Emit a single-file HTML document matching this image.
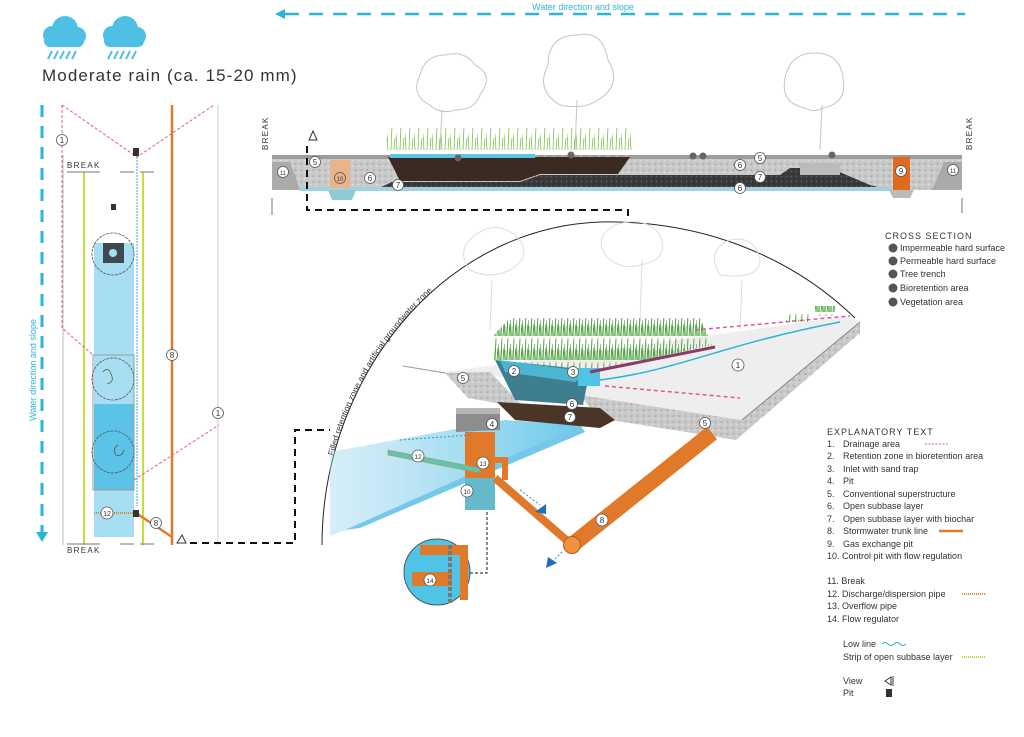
<!DOCTYPE html>
<html><head><meta charset="utf-8"><style>
html,body{margin:0;padding:0;background:#fff}
svg{display:block}
text{font-family:"Liberation Sans",sans-serif}
</style></head><body>
<svg width="1024" height="737" viewBox="0 0 1024 737" xmlns="http://www.w3.org/2000/svg">
<defs>
<pattern id="grav" width="6" height="6" patternUnits="userSpaceOnUse"><rect width="6" height="6" fill="#c9c9c9"/><circle cx="1.5" cy="2" r=".8" fill="#9a9a9a"/><circle cx="4.5" cy="4.5" r=".7" fill="#e8e8e8"/></pattern>
<pattern id="dgrav" width="5" height="5" patternUnits="userSpaceOnUse"><rect width="5" height="5" fill="#3a3a3a"/><circle cx="1.5" cy="1.5" r=".7" fill="#666"/><circle cx="3.5" cy="3.8" r=".6" fill="#222"/></pattern>
<pattern id="grass" width="9" height="30" patternUnits="userSpaceOnUse"><path d="M1 30 L0 14 M4 30 L5 6 M7 30 L8 18" stroke="#7cc04a" stroke-width=".8"/><circle cx="5" cy="6" r="1" fill="#a8cf7a"/></pattern>
<pattern id="grass2" width="6" height="24" patternUnits="userSpaceOnUse"><path d="M1 24 L0 8 M3 24 L4 2 M5 24 L6 12" stroke="#3f9a35" stroke-width=".9"/><circle cx="4" cy="3" r=".9" fill="#cfd08a"/><path d="M2 24 L2 14" stroke="#7fc25a" stroke-width=".8"/></pattern>
<linearGradient id="wat" x1="0" y1="0" x2="1" y2="0"><stop offset="0" stop-color="#9fd8ee" stop-opacity=".5"/><stop offset="1" stop-color="#4fc0e8"/></linearGradient>
</defs>

<line x1="285" y1="14" x2="965" y2="14" stroke="#2bb5d8" stroke-width="2.5" stroke-dasharray="14,10"/>
<path d="M275 14 L285 9 L285 19 Z" fill="#2bb5d8"/>
<text x="583" y="10" font-size="9" fill="#2bb5d8" text-anchor="middle">Water direction and slope</text>

<g fill="#4ec0e6">
 <g transform="translate(42,15)"><circle cx="10" cy="20" r="9"/><circle cx="23" cy="14" r="13"/><circle cx="35" cy="21" r="9"/><rect x="2" y="20" width="40" height="12" rx="6"/>
  <path d="M6 44 L10 36 M12 44 L16 36 M18 44 L22 36 M24 44 L28 36 M30 44 L34 36" stroke="#4ec0e6" stroke-width="2"/></g>
 <g transform="translate(102,15)"><circle cx="10" cy="20" r="9"/><circle cx="23" cy="14" r="13"/><circle cx="35" cy="21" r="9"/><rect x="2" y="20" width="40" height="12" rx="6"/>
  <path d="M6 44 L10 36 M12 44 L16 36 M18 44 L22 36 M24 44 L28 36 M30 44 L34 36" stroke="#4ec0e6" stroke-width="2"/></g>
</g>
<text x="42" y="81" font-size="17" fill="#333" letter-spacing="1.1">Moderate rain (ca. 15-20 mm)</text>

<line x1="42" y1="105" x2="42" y2="532" stroke="#2bb5d8" stroke-width="3" stroke-dasharray="12,9"/>
<path d="M36 532 L48 532 L42 542 Z" fill="#2bb5d8"/>
<text transform="translate(36,370) rotate(-90)" font-size="9" fill="#2bb5d8" text-anchor="middle">Water direction and slope</text>
<rect x="94" y="243" width="40" height="294" fill="#a8def2"/>
<rect x="94" y="404" width="40" height="86" fill="#5cc3e8"/>
<rect x="93" y="355" width="41" height="135" fill="none" stroke="#999" stroke-width="1"/>
<line x1="63" y1="155" x2="63" y2="545" stroke="#bbb"/>
<line x1="218" y1="105" x2="218" y2="545" stroke="#ccc"/>
<line x1="84" y1="172" x2="84" y2="545" stroke="#c8dc3c" stroke-width="2"/>
<line x1="143" y1="172" x2="143" y2="545" stroke="#c8dc3c" stroke-width="2"/>
<line x1="67" y1="172" x2="100" y2="172" stroke="#777"/><line x1="120" y1="172" x2="134" y2="172" stroke="#777"/><line x1="140" y1="172" x2="154" y2="172" stroke="#777"/>
<line x1="67" y1="544" x2="100" y2="544" stroke="#777"/><line x1="120" y1="544" x2="134" y2="544" stroke="#777"/><line x1="140" y1="544" x2="154" y2="544" stroke="#777"/>
<text x="67" y="168" font-size="8" fill="#333" letter-spacing="1.3">BREAK</text>
<text x="67" y="553" font-size="8" fill="#333" letter-spacing="1.3">BREAK</text>
<path d="M62 105 L137 157 L214 105 M62 105 L62 328 L93 355 M134 480 L219 425" fill="none" stroke="#e0589a" stroke-width="1" stroke-dasharray="3,2"/>
<line x1="137" y1="157" x2="137" y2="506" stroke="#2bb5d8" stroke-width="1" stroke-dasharray="2,1"/>
<line x1="172" y1="105" x2="172" y2="545" stroke="#e07a2a" stroke-width="2.5"/>
<line x1="136" y1="513" x2="172" y2="537" stroke="#e07a2a" stroke-width="2.5"/>
<line x1="94" y1="513" x2="133" y2="513" stroke="#c98a3a" stroke-width="2" stroke-dasharray="1,1"/>
<g fill="none" stroke="#555" stroke-width=".8">
 <circle cx="113" cy="254" r="21" stroke-dasharray="3,1"/><circle cx="113" cy="379" r="21" stroke-dasharray="3,1"/><circle cx="113" cy="452" r="21" stroke-dasharray="3,1"/>
 <path d="M103 372 q5 -6 8 2 q4 8 -4 10 M118 445 q-6 4 -2 10 q6 2 8 -5"/>
</g>
<rect x="103" y="243" width="21" height="20" fill="#3c4a4e"/><circle cx="113" cy="253" r="4" fill="#a8def2"/>
<rect x="133" y="148" width="6" height="8" fill="#333"/><rect x="111" y="204" width="5" height="6" fill="#333"/><rect x="133" y="510" width="6" height="7" fill="#333"/>
<g font-size="8" fill="#333" text-anchor="middle">
 <circle cx="62" cy="140" r="5.5" fill="#fff" stroke="#555" stroke-width=".8"/><text x="62" y="143">1</text>
 <circle cx="218" cy="413" r="5.5" fill="#fff" stroke="#555" stroke-width=".8"/><text x="218" y="416">1</text>
 <circle cx="172" cy="355" r="5.5" fill="#fff" stroke="#555" stroke-width=".8"/><text x="172" y="358">8</text>
 <circle cx="156" cy="523" r="5.5" fill="#fff" stroke="#555" stroke-width=".8"/><text x="156" y="526">8</text>
 <circle cx="107" cy="513" r="6" fill="#fff" stroke="#555" stroke-width=".8"/><text x="107" y="516" font-size="7">12</text>
</g>
<path d="M177 543 L182 535 L186 543 Z" fill="none" stroke="#333"/>
<path d="M190 543 L295 543 L295 430 L330 430" fill="none" stroke="#111" stroke-width="2" stroke-dasharray="7,5"/>

<g fill="none" stroke="#c4c4c4" stroke-width="1">
 <path d="M440 150 L442 110 M430 105 q-20 -10 -10 -30 q5 -20 25 -20 q20 -5 30 10 q20 10 5 30 q-5 15 -25 15 q-15 5 -25 -5z"/>
 <path d="M575 150 L577 100 M560 105 q-25 -15 -12 -40 q0 -30 30 -30 q25 -5 30 25 q15 25 -10 40 q-15 10 -38 5z"/>
 <path d="M820 150 L822 105 M805 108 q-25 -5 -20 -30 q5 -25 30 -25 q25 0 28 25 q5 25 -20 30 q-10 5 -18 0z"/>
</g>
<polygon points="272,157 962,157 962,190 272,190" fill="url(#grav)"/>
<rect x="272" y="155" width="690" height="4" fill="#9d9d9d"/>
<polygon points="272,162 290,162 300,190 272,190" fill="#aaa"/>
<polygon points="962,162 944,162 932,190 962,190" fill="#aaa"/>
<polygon points="392,182 520,182 540,175 780,175 790,168 830,168 870,185 890,190 375,190" fill="url(#dgrav)"/>
<rect x="386" y="128" width="246" height="30" fill="url(#grass)"/>
<polygon points="388,157 630,157 618,174 540,174 520,181 400,181" fill="#3a2a22"/>
<rect x="390" y="154" width="145" height="4" fill="#5ec6e6"/>
<rect x="300" y="187" width="590" height="4" fill="#9fd3e0"/>
<rect x="330" y="160" width="20" height="28" fill="#e9b48a"/>
<polygon points="328,190 356,190 352,200 332,200" fill="#8fc9d6"/>
<rect x="893" y="157" width="17" height="36" fill="#e06a1e"/>
<polygon points="889,190 914,190 910,198 893,198" fill="#bbb"/>
<rect x="800" y="163" width="40" height="12" fill="#bbb"/>
<line x1="272" y1="198" x2="272" y2="215" stroke="#777"/><line x1="962" y1="198" x2="962" y2="213" stroke="#777"/>
<text transform="translate(268,150) rotate(-90)" font-size="8" fill="#333" letter-spacing="1.3">BREAK</text>
<text transform="translate(972,150) rotate(-90)" font-size="8" fill="#333" letter-spacing="1.3">BREAK</text>
<path d="M309 140 L313 131 L317 140 Z" fill="none" stroke="#333"/>
<path d="M307 146 L307 210 L628 210 L628 220" fill="none" stroke="#111" stroke-width="2" stroke-dasharray="7,5"/>
<g font-size="8" fill="#333" text-anchor="middle">
 <g fill="#fff" stroke="#555" stroke-width=".8">
  <circle cx="283" cy="172" r="5.5"/><circle cx="315" cy="162" r="5.5"/><circle cx="340" cy="178" r="5.5" fill="#e9b48a"/><circle cx="370" cy="178" r="5.5"/><circle cx="398" cy="185" r="5.5"/>
  <circle cx="760" cy="158" r="5.5"/><circle cx="740" cy="165" r="5.5"/><circle cx="760" cy="177" r="5.5"/><circle cx="740" cy="188" r="5.5"/><circle cx="901" cy="171" r="5.5"/><circle cx="953" cy="170" r="5.5"/>
 </g>
 <text x="283" y="175" font-size="6">11</text><text x="315" y="165">5</text><text x="340" y="181" font-size="6">10</text><text x="370" y="181">6</text><text x="398" y="188">7</text>
 <text x="760" y="161">5</text><text x="740" y="168">6</text><text x="760" y="180">7</text><text x="740" y="191">6</text><text x="901" y="174">9</text><text x="953" y="173" font-size="6">11</text>
 <g fill="#666"><circle cx="458" cy="158" r="3.5"/><circle cx="571" cy="155" r="3.5"/><circle cx="693" cy="156" r="3.5"/><circle cx="703" cy="156" r="3.5"/><circle cx="832" cy="155" r="3.5"/></g>
</g>

<text x="885" y="239" font-size="9" fill="#333" letter-spacing="1">CROSS SECTION</text>
<g font-size="9" fill="#333">
 <g fill="#555"><circle cx="893" cy="248" r="4.5"/><circle cx="893" cy="261" r="4.5"/><circle cx="893" cy="274" r="4.5"/><circle cx="893" cy="288" r="4.5"/><circle cx="893" cy="302" r="4.5"/></g>
 <text x="900" y="251">Impermeable hard surface</text><text x="900" y="264">Permeable hard surface</text><text x="900" y="277">Tree trench</text><text x="900" y="291">Bioretention area</text><text x="900" y="305">Vegetation area</text>
</g>

<path id="arc" d="M322 545 C322 380 440 228 600 222 C700 220 790 255 855 318" fill="none" stroke="#222" stroke-width="1"/>
<text font-size="8.5" fill="#333"><textPath href="#arc" startOffset="12%">Filled retention zone and artificial groundwater zone</textPath></text>
<g fill="none" stroke="#ddd" stroke-width="1">
 <path d="M490 330 L492 280 M470 270 q-15 -20 5 -35 q20 -15 40 0 q20 20 -5 35 q-20 10 -40 0z"/>
 <path d="M640 320 L642 260 M610 260 q-20 -20 5 -35 q30 -10 45 10 q10 25 -20 30 q-15 5 -30 -5z"/>
 <path d="M740 330 L742 280 M720 275 q-15 -25 10 -35 q25 -5 30 20 q0 20 -40 15z"/>
</g>

<polygon points="330,452 505,420 580,425 345,530 330,536" fill="url(#wat)" opacity=".85"/>
<polygon points="345,530 580,425 585,432 360,528" fill="#3ab0e0" opacity=".7"/>
<polygon points="580,395 742,420 860,322 860,333 736,440 598,418" fill="url(#grav)"/>
<polygon points="403,366 445,372 850,316 860,322 742,420 580,395 520,378 445,373" fill="#eeeeee"/>
<line x1="403" y1="366" x2="445" y2="373" stroke="#999"/>
<line x1="742" y1="420" x2="860" y2="322" stroke="#888"/>
<polygon points="445,373 490,372 525,408 468,398" fill="url(#grav)"/>
<polygon points="497,402 600,408 615,420 600,428 515,420" fill="#4a3528"/>
<polygon points="494,362 494,335 510,318 700,318 712,345 590,372" fill="url(#grass2)"/>
<polygon points="495,360 590,370 583,405 515,400" fill="#3d7f8e"/>
<polygon points="500,360 590,372 575,382 505,372" fill="#4fc4e6" opacity=".8"/>
<rect x="578" y="368" width="22" height="18" fill="#4fc4e6"/>
<line x1="590" y1="372" x2="715" y2="347" stroke="#8a3a6a" stroke-width="3"/>
<path d="M695 330 L850 316 M605 386 L740 398" stroke="#e0589a" stroke-width="1.5" stroke-dasharray="4,3" fill="none"/>
<path d="M600 380 C680 370 720 345 840 322" stroke="#2bb5d8" stroke-width="1.5" fill="none"/>
<rect x="785" y="312" width="25" height="10" fill="url(#grass2)"/><rect x="815" y="306" width="20" height="10" fill="url(#grass2)"/>
<polygon points="456,412 500,410 500,430 456,432" fill="#8d8d8d"/>
<rect x="456" y="408" width="44" height="6" fill="#b5b5b5"/>
<rect x="465" y="432" width="30" height="78" fill="#e07a2a"/>
<rect x="465" y="478" width="30" height="32" fill="#4fc4e6" opacity=".85"/>
<polygon points="388,450 480,468 480,473 388,455" fill="#5fc4b4" stroke="#c98a3a" stroke-width=".6"/>
<path d="M480 460 L505 460 L505 480" stroke="#e07a2a" stroke-width="6" fill="none"/>
<line x1="495" y1="478" x2="572" y2="545" stroke="#e07a2a" stroke-width="8"/>
<line x1="572" y1="545" x2="712" y2="433" stroke="#e07a2a" stroke-width="16"/>
<circle cx="572" cy="545" r="8.5" fill="#f0913e" stroke="#b55a15"/>
<path d="M520 490 L540 505" stroke="#3a8ad0" stroke-dasharray="2,2"/><path d="M535 512 L546 504 L546 514Z" fill="#1f6fc0"/>
<path d="M562 552 L552 562" stroke="#3a8ad0" stroke-dasharray="2,2"/><path d="M546 568 L548 557 L557 563Z" fill="#1f6fc0"/>
<path d="M400 440 L470 435" stroke="#3a8ad0" stroke-dasharray="2,2"/>
<path d="M487 512 L487 573 L470 573" stroke="#111" stroke-dasharray="3,2" fill="none"/>
<circle cx="437" cy="572" r="33" fill="#4fc4e6" stroke="#555"/>
<path d="M420 545 L468 545 L468 600 L460 600 L460 555 L420 555Z" fill="#e07a2a"/>
<rect x="412" y="572" width="40" height="14" fill="#e07a2a"/>
<line x1="450" y1="545" x2="450" y2="603" stroke="#777" stroke-width="4" stroke-dasharray="4,2"/>
<g font-size="8" fill="#333" text-anchor="middle">
 <g fill="#fff" stroke="#555" stroke-width=".8">
  <circle cx="738" cy="365" r="6"/><circle cx="514" cy="371" r="5.5"/><circle cx="573" cy="372" r="5.5"/><circle cx="463" cy="378" r="5.5"/>
  <circle cx="572" cy="404" r="5.5"/><circle cx="570" cy="417" r="5.5"/><circle cx="705" cy="423" r="5.5"/><circle cx="492" cy="424" r="5.5"/>
  <circle cx="418" cy="456" r="6"/><circle cx="483" cy="463" r="6"/><circle cx="467" cy="491" r="6"/><circle cx="602" cy="520" r="6"/><circle cx="430" cy="580" r="6"/>
 </g>
 <text x="738" y="368">1</text><text x="514" y="374">2</text><text x="573" y="375">3</text><text x="463" y="381">5</text>
 <text x="572" y="407">6</text><text x="570" y="420">7</text><text x="705" y="426">5</text><text x="492" y="427">4</text>
 <text x="418" y="459" font-size="6.5">12</text><text x="483" y="466" font-size="6.5">13</text><text x="467" y="494" font-size="6.5">10</text><text x="602" y="523">8</text><text x="430" y="583" font-size="6.5">14</text>
</g>

<g font-size="9" fill="#333">
 <text x="827" y="435" letter-spacing="1">EXPLANATORY TEXT</text>
 <text x="827" y="447">1.</text><text x="843" y="447">Drainage area</text>
 <text x="827" y="459">2.</text><text x="843" y="459">Retention zone in bioretention area</text>
 <text x="827" y="472">3.</text><text x="843" y="472">Inlet with sand trap</text>
 <text x="827" y="484">4.</text><text x="843" y="484">Pit</text>
 <text x="827" y="497">5.</text><text x="843" y="497">Conventional superstructure</text>
 <text x="827" y="509">6.</text><text x="843" y="509">Open subbase layer</text>
 <text x="827" y="522">7.</text><text x="843" y="522">Open subbase layer with biochar</text>
 <text x="827" y="534">8.</text><text x="843" y="534">Stormwater trunk line</text>
 <text x="827" y="547">9.</text><text x="843" y="547">Gas exchange pit</text>
 <text x="827" y="559">10. Control pit with flow regulation</text>
 <text x="827" y="584">11. Break</text>
 <text x="827" y="597">12. Discharge/dispersion pipe</text>
 <text x="827" y="609">13. Overflow pipe</text>
 <text x="827" y="622">14. Flow regulator</text>
 <text x="843" y="647">Low line</text>
 <text x="843" y="660">Strip of open subbase layer</text>
 <text x="843" y="684">View</text>
 <text x="843" y="696">Pit</text>
</g>
<line x1="925" y1="444" x2="948" y2="444" stroke="#e0589a" stroke-dasharray="2,1.5"/>
<line x1="939" y1="531" x2="963" y2="531" stroke="#e07a2a" stroke-width="2.5"/>
<line x1="962" y1="594" x2="986" y2="594" stroke="#d98a3a" stroke-width="2" stroke-dasharray="1,1"/>
<path d="M882 644 q3 -3 6 0 t6 0 t6 0 t6 0" stroke="#2bb5d8" fill="none"/>
<line x1="962" y1="657" x2="986" y2="657" stroke="#b8d43c" stroke-width="2" stroke-dasharray="1,1"/>
<path d="M885 681 L891 677 L891 685 Z M893 676 L893 686" fill="none" stroke="#333"/>
<rect x="886" y="689" width="6" height="8" fill="#333"/>
</svg>
</body></html>
